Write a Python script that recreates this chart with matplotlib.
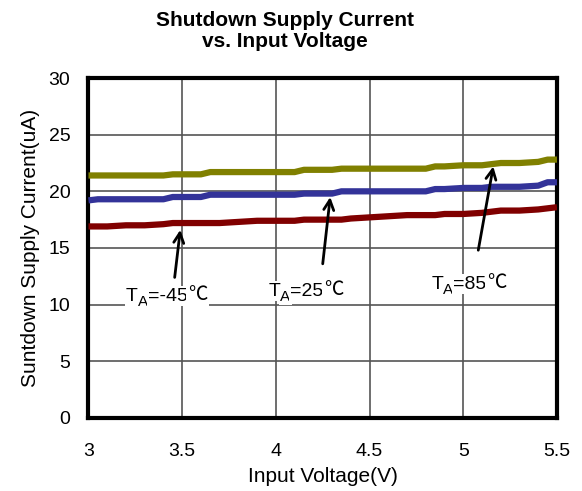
import matplotlib
matplotlib.use('Agg')
import matplotlib.pyplot as plt

plt.rcParams['font.family'] = ['Liberation Sans', 'Noto Sans CJK SC', 'DejaVu Sans']

# 資料
vin = [3.0, 3.05, 3.1, 3.2, 3.3, 3.4, 3.45, 3.5, 3.6, 3.65, 3.7, 3.8, 3.9, 4.0, 4.1,
       4.15, 4.2, 4.3, 4.35, 4.4, 4.5, 4.6, 4.7, 4.8, 4.85, 4.9, 5.0, 5.1, 5.15,
       5.2, 5.3, 5.4, 5.45, 5.5]
i_85 = [21.4, 21.4, 21.4, 21.4, 21.4, 21.4, 21.5, 21.5, 21.5, 21.7, 21.7, 21.7, 21.7, 21.7, 21.7,
        21.9, 21.9, 21.9, 22.0, 22.0, 22.0, 22.0, 22.0, 22.0, 22.2, 22.2, 22.3, 22.3, 22.4,
        22.5, 22.5, 22.6, 22.8, 22.8]
i_25 = [19.2, 19.3, 19.3, 19.3, 19.3, 19.3, 19.5, 19.5, 19.5, 19.7, 19.7, 19.7, 19.7, 19.7, 19.7,
        19.8, 19.8, 19.8, 20.0, 20.0, 20.0, 20.0, 20.0, 20.0, 20.2, 20.2, 20.3, 20.3, 20.4,
        20.4, 20.4, 20.5, 20.8, 20.8]
i_m45 = [16.9, 16.9, 16.9, 17.0, 17.0, 17.1, 17.2, 17.2, 17.2, 17.2, 17.2, 17.3, 17.4, 17.4, 17.4,
         17.5, 17.5, 17.5, 17.5, 17.6, 17.7, 17.8, 17.9, 17.9, 17.9, 18.0, 18.0, 18.1, 18.2,
         18.3, 18.3, 18.4, 18.5, 18.6]

# 標籤: (溫度文字, 文字左下位置, 箭頭尾, 箭頭頭)
labels = ['=-45', '=25', '=85']
label_pos = [(3.20, 10.35), (3.96, 10.8), (4.83, 11.4)]
arrow_tail = [(3.46, 12.4), (4.25, 13.6), (5.08, 14.8)]
arrow_head = [(3.49, 16.6), (4.29, 19.5), (5.16, 22.2)]

fig = plt.figure(figsize=(5.82, 4.91), dpi=100)
ax = fig.add_axes([0.152, 0.149, 0.805, 0.692])

ax.plot(vin, i_85, color='#808000', lw=4.5, solid_capstyle='butt', zorder=3)
ax.plot(vin, i_25, color='#333399', lw=4.5, solid_capstyle='butt', zorder=3)
ax.plot(vin, i_m45, color='#800000', lw=4.5, solid_capstyle='butt', zorder=3)

ax.set_xlim(3, 5.5)
ax.set_ylim(0, 30)
ax.set_xticks([3, 3.5, 4, 4.5, 5, 5.5])
ax.set_xticklabels(['3', '3.5', '4', '4.5', '5', '5.5'])
ax.set_yticks(range(0, 31, 5))
ax.grid(True, color='#555555', lw=1.2)
ax.set_axisbelow(True)
ax.tick_params(axis='y', labelsize=14, length=0, pad=13)
ax.tick_params(axis='x', labelsize=14, length=0, pad=18)
for s in ax.spines.values():
    s.set_linewidth(3)

fig.text(0.49, 0.978, 'Shutdown Supply Current\nvs. Input Voltage', fontsize=15,
         fontweight='bold', ha='center', va='top', linespacing=1.15)
ax.set_xlabel('Input Voltage(V)', fontsize=15, labelpad=5)
ax.set_ylabel('Suntdown Supply Current(uA)', fontsize=15, labelpad=6)

box = dict(facecolor='white', edgecolor='none', pad=1)
arr = dict(arrowstyle='->', color='black', lw=2, mutation_scale=18, shrinkA=0, shrinkB=0)
for lab, pos, tail, head in zip(labels, label_pos, arrow_tail, arrow_head):
    ax.annotate('', xy=head, xytext=tail, arrowprops=arr, zorder=5)
    t1 = ax.text(pos[0], pos[1], 'T', fontsize=14, ha='left', va='baseline',
                 family='Liberation Sans', bbox=box, zorder=4)
    t2 = ax.annotate('A', xy=(1, 0), xycoords=t1, xytext=(0, -3), textcoords='offset points',
                     fontsize=11, ha='left', va='bottom', family='Liberation Sans',
                     bbox=box, zorder=4)
    t3 = ax.annotate(lab, xy=(1, 0), xycoords=(t2, t1), fontsize=14, ha='left', va='bottom',
                     family='Liberation Sans', bbox=box, zorder=4)
    ax.annotate('℃', xy=(1, 0), xycoords=t3, fontsize=14, ha='left', va='bottom',
                family=['Noto Sans CJK SC', 'DejaVu Sans'], fontweight='light',
                bbox=box, zorder=4)

fig.savefig('out.png', dpi=100)
